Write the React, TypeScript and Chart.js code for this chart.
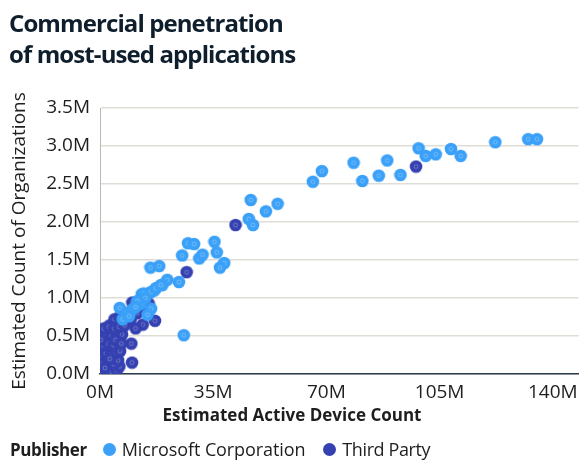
import React, { useEffect, useRef } from "react";
import { Chart, registerables } from "chart.js";

Chart.register(...registerables);

// Values in millions: [Estimated Active Device Count, Estimated Count of Organizations]
const microsoftPoints: [number, number][] = [
  [65.8, 2.53], [68.6, 2.67], [78.4, 2.78], [81.1, 2.54], [86.2, 2.61], [88.8, 2.81],
  [92.9, 2.62], [98.5, 2.97], [100.7, 2.87], [103.8, 2.89], [108.5, 2.96], [111.5, 2.87],
  [122.2, 3.05], [132.4, 3.09], [135.1, 3.09],
  [46.6, 2.29], [46.0, 2.04], [47.3, 1.96], [51.3, 2.14], [54.9, 2.24],
  [27.2, 1.72], [29.1, 1.71], [35.4, 1.74], [36.1, 1.60], [25.4, 1.56], [30.7, 1.52],
  [31.7, 1.57], [38.4, 1.46], [37.1, 1.40], [15.6, 1.40], [18.3, 1.42], [24.4, 1.21],
  [20.8, 1.24], [19.3, 1.17], [16.8, 1.10], [12.9, 1.05], [25.9, 0.51],
  [13.6, 1.06], [15.8, 1.08], [17.3, 1.13], [18.8, 1.17], [14.0, 1.00], [15.8, 0.86],
  [14.7, 0.78], [12.5, 0.92], [11.5, 0.96], [6.1, 0.87], [8.2, 0.80], [10.0, 0.85],
  [7.0, 0.72], [9.0, 0.76], [11.0, 0.88],
];

const thirdPartyPoints: [number, number][] = [
  [97.7, 2.73], [41.9, 1.96], [26.8, 1.34],
  [10.0, 0.94], [12.7, 0.95], [15.0, 0.93], [13.2, 0.89], [9.5, 0.72], [13.2, 0.65],
  [17.0, 0.70], [3.0, 0.64], [9.7, 0.40], [9.9, 0.15], [11.5, 0.80], [11.0, 0.60],
  [7.0, 0.62], [5.5, 0.70], [4.5, 0.72], [6.1, 0.75], [7.5, 0.78],
  [0.4, 0.03], [2.0, 0.04], [3.6, 0.03], [5.2, 0.05], [6.0, 0.10],
  [0.8, 0.14], [2.6, 0.15], [4.2, 0.13], [5.6, 0.18],
  [0.3, 0.25], [1.8, 0.27], [3.4, 0.26], [5.0, 0.28], [6.2, 0.30],
  [1.0, 0.38], [2.6, 0.40], [4.2, 0.38], [5.8, 0.42],
  [0.4, 0.50], [2.0, 0.52], [3.6, 0.50], [5.2, 0.53], [6.8, 0.52],
  [1.2, 0.60], [2.8, 0.62], [4.4, 0.60], [6.0, 0.62], [7.6, 0.64],
  [0.2, 0.45], [1.5, 0.08], [3.0, 0.20], [4.8, 0.45], [6.6, 0.40],
];

const seriesNames = ["Microsoft Corporation", "Third Party"];
const seriesColors = ["#3aa0f8", "#3541b1"];
const xTickValues = [0, 35, 70, 105, 140];
const yTickValues = [0, 0.5, 1, 1.5, 2, 2.5, 3, 3.5];
const xMax = 148;
const yMax = 3.5;

const FONT = "'Open Sans', 'Noto Sans', sans-serif";

function makeDot(color: string): HTMLCanvasElement {
  const c = document.createElement("canvas");
  c.width = 14;
  c.height = 14;
  const g = c.getContext("2d")!;
  g.fillStyle = color;
  g.beginPath();
  g.arc(7, 7, 6.3, 0, Math.PI * 2);
  g.fill();
  g.strokeStyle = "rgba(255,255,255,0.35)";
  g.lineWidth = 0.8;
  g.beginPath();
  g.arc(7, 7, 2, 0, Math.PI * 2);
  g.stroke();
  return c;
}

export default function App() {
  const canvasRef = useRef<HTMLCanvasElement | null>(null);

  useEffect(() => {
    document.body.style.margin = "0";
    const canvas = canvasRef.current;
    if (!canvas) return;
    const toPts = (arr: [number, number][]) => arr.map(([x, y]) => ({ x, y }));
    const chart = new Chart(canvas, {
      type: "scatter",
      data: {
        datasets: [
          {
            label: seriesNames[0],
            data: toPts(microsoftPoints),
            backgroundColor: seriesColors[0],
            pointStyle: makeDot(seriesColors[0]) as any,
            pointRadius: 6.3,
            clip: 0,
          },
          {
            label: seriesNames[1],
            data: toPts(thirdPartyPoints),
            backgroundColor: seriesColors[1],
            pointStyle: makeDot(seriesColors[1]) as any,
            pointRadius: 6.3,
            clip: 0,
          },
        ],
      },
      options: {
        animation: false,
        responsive: false,
        layout: { padding: { top: 108, left: 0, right: 1, bottom: 0 } },
        plugins: {
          legend: { display: false },
          title: { display: false },
          tooltip: { enabled: false },
        },
        scales: {
          x: {
            type: "linear",
            min: 0,
            max: xMax,
            afterBuildTicks: (scale: any) => {
              scale.ticks = xTickValues.map((v) => ({ value: v }));
            },
            afterFit: (scale: any) => {
              scale.height = 86;
            },
            grid: { display: false, drawTicks: false },
            border: { display: true, color: "#2b3b4c", width: 1.5 },
            ticks: {
              padding: 7,
              color: "#1e1e1e",
              font: { family: FONT, size: 19 },
              callback: (v: any) => `${v}M`,
            },
          },
          y: {
            type: "linear",
            min: 0,
            max: yMax,
            afterBuildTicks: (scale: any) => {
              scale.ticks = yTickValues.map((v) => ({ value: v }));
            },
            afterFit: (scale: any) => {
              scale.width = 100;
            },
            grid: { color: "#e0ddd7", lineWidth: 1.6, drawTicks: false },
            border: { display: true, color: "#b9b9b9", width: 1 },
            ticks: {
              padding: 10,
              color: "#1e1e1e",
              font: { family: FONT, size: 19 },
              callback: (v: any) => `${Number(v).toFixed(1)}M`,
            },
            title: {
              display: true,
              text: "Estimated Count of Organizations",
              color: "#1e1e1e",
              font: { family: FONT, size: 19 },
              padding: { top: 8, bottom: 0 },
            },
          },
        },
      },
    });
    return () => chart.destroy();
  }, []);

  const dot = (color: string) => (
    <span
      style={{
        display: "inline-block",
        width: 13,
        height: 13,
        borderRadius: "50%",
        background: color,
        marginRight: 6,
      }}
    />
  );

  return (
    <div style={{ position: "relative", width: 586, height: 460, fontFamily: FONT, background: "#fff" }}>
      <canvas ref={canvasRef} width={586} height={460} style={{ position: "absolute", left: 0, top: 0 }} />
      <div
        style={{
          position: "absolute",
          left: 9,
          top: 7,
          fontSize: 24,
          fontWeight: 700,
          lineHeight: "31px",
          color: "#0f1e2c",
          letterSpacing: "-0.9px",
        }}
      >
        Commercial penetration
        <br />
        of most-used applications
      </div>
      <div
        style={{
          position: "absolute",
          left: 0,
          width: 584,
          top: 403,
          textAlign: "center",
          fontSize: 17,
          fontWeight: 700,
          color: "#1e1e1e",
        }}
      >
        Estimated Active Device Count
      </div>
      <div
        style={{
          position: "absolute",
          left: 10,
          top: 437,
          display: "flex",
          alignItems: "center",
          fontSize: 18,
          color: "#1e1e1e",
          whiteSpace: "nowrap",
        }}
      >
        <span style={{ fontWeight: 700, fontSize: 17, letterSpacing: "-0.4px", marginRight: 16 }}>Publisher</span>
        {dot(seriesColors[0])}
        <span style={{ marginRight: 18, letterSpacing: "-0.1px" }}>{seriesNames[0]}</span>
        {dot(seriesColors[1])}
        <span style={{ letterSpacing: "-0.4px" }}>{seriesNames[1]}</span>
      </div>
    </div>
  );
}
